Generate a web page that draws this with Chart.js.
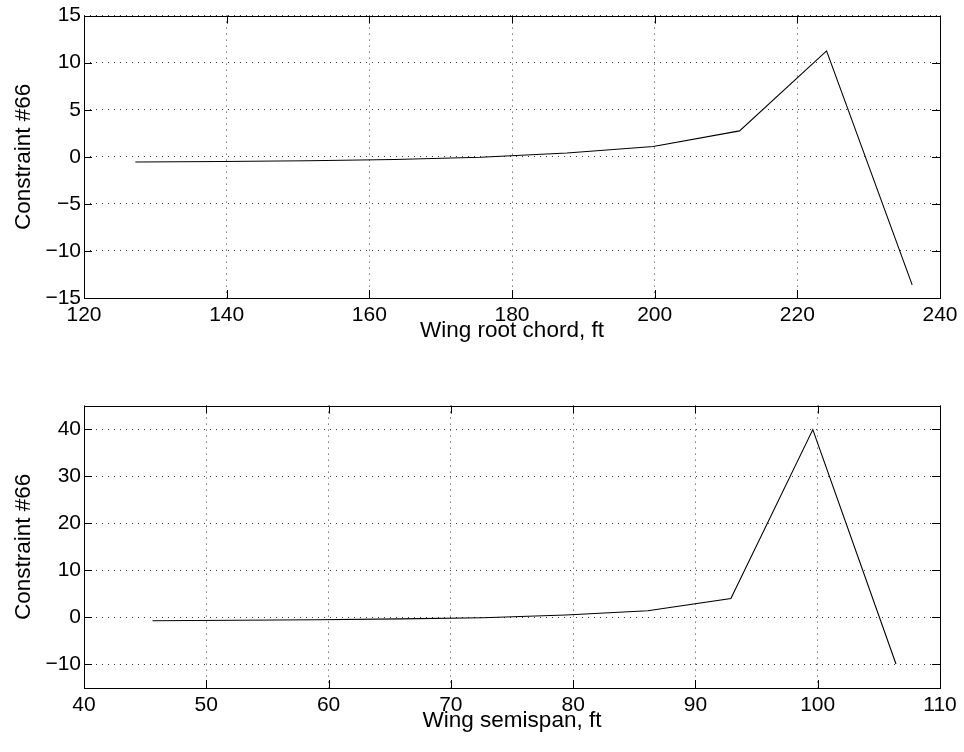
<!DOCTYPE html>
<html>
<head>
<meta charset="utf-8">
<script src="https://cdn.jsdelivr.net/npm/chart.js@4.4.0/dist/chart.umd.min.js"></script>
<style>
  html, body { margin: 0; padding: 0; background: #fff; }
  body { width: 964px; height: 752px; position: relative; overflow: hidden; }
  .panel { position: absolute; left: 0; width: 964px; height: 376px; }
</style>
</head>
<body>
<div class="panel" style="top:0"><canvas id="c1"></canvas></div>
<div class="panel" style="top:390px"><canvas id="c2"></canvas></div>
<script>
// Constraint #66 sensitivity to wing root chord
const rootChord = [127.2, 139.3, 151.4, 163.5, 175.6, 187.7, 199.8, 211.9, 224.1, 236.1];
const constraintVsChord = [-0.55, -0.5, -0.42, -0.28, -0.05, 0.4, 1.1, 2.75, 11.25, -13.6];
const chordTicks = [120, 140, 160, 180, 200, 220, 240];
const chordValueTicks = [-15, -10, -5, 0, 5, 10, 15];

// Constraint #66 sensitivity to wing semispan
const semispan = [45.6, 52.4, 59.1, 65.9, 72.6, 79.4, 86.1, 92.9, 99.6, 106.4];
const constraintVsSpan = [-0.7, -0.62, -0.5, -0.32, -0.08, 0.5, 1.4, 4.0, 39.9, -9.9];
const spanTicks = [40, 50, 60, 70, 80, 90, 100, 110];
const spanValueTicks = [-10, 0, 10, 20, 30, 40];

const FONT = "'Liberation Sans', Arial, Helvetica, sans-serif";
const TICK_SIZE = 21;
const TITLE_SIZE = 22.5;
const fmt = v => String(v).replace('-', '\u2212');

// Box outline and inward tick marks on all four sides
const frame = {
  id: 'frame',
  afterDraw(chart) {
    const { ctx, chartArea: a, scales } = chart;
    ctx.save();
    ctx.strokeStyle = '#000';
    ctx.lineWidth = 1;
    const L = 8;
    ctx.beginPath();
    scales.x.ticks.forEach(t => {
      const px = Math.round(scales.x.getPixelForValue(t.value)) + 0.5;
      ctx.moveTo(px, a.bottom); ctx.lineTo(px, a.bottom - L);
      ctx.moveTo(px, a.top); ctx.lineTo(px, a.top + L);
    });
    scales.y.ticks.forEach(t => {
      const py = Math.round(scales.y.getPixelForValue(t.value)) + 0.5;
      ctx.moveTo(a.left, py); ctx.lineTo(a.left + L, py);
      ctx.moveTo(a.right, py); ctx.lineTo(a.right - L, py);
    });
    ctx.stroke();
    ctx.strokeRect(Math.round(a.left) + 0.5, Math.round(a.top) + 0.5,
                   Math.round(a.right - a.left), Math.round(a.bottom - a.top));
    ctx.restore();
  }
};

function makeChart(id, xs, ys, xTicks, yTicks, xMin, xMax, yMin, yMax, xTitle) {
  const pts = xs.map((x, i) => ({ x, y: ys[i] }));
  return new Chart(document.getElementById(id), {
    type: 'line',
    data: { datasets: [{ data: pts, borderColor: '#000', borderWidth: 1.1,
                         pointRadius: 0, tension: 0, fill: false }] },
    options: {
      responsive: true, maintainAspectRatio: false, animation: false,
      layout: { padding: { top: 14, right: 24, left: 0, bottom: 0 } },
      plugins: { legend: { display: false }, tooltip: { enabled: false } },
      scales: {
        x: {
          type: 'linear', min: xMin, max: xMax,
          afterBuildTicks: s => { s.ticks = xTicks.map(v => ({ value: v })); },
          afterFit: s => { s.height = 78; },
          grid: { color: '#3a3a3a', lineWidth: 1, drawTicks: false },
          border: { display: false, dash: [1, 5] },
          ticks: { color: '#000', font: { family: FONT, size: TICK_SIZE }, padding: 5,
                   maxRotation: 0, callback: v => fmt(v) },
          title: { display: true, text: xTitle, color: '#000',
                   font: { family: FONT, size: TITLE_SIZE },
                   padding: { top: 0, bottom: 32 } }
        },
        y: {
          type: 'linear', min: yMin, max: yMax,
          afterBuildTicks: s => { s.ticks = yTicks.map(v => ({ value: v })); },
          afterFit: s => { s.width = 84; },
          grid: { color: '#3a3a3a', lineWidth: 1, drawTicks: false },
          border: { display: false, dash: [1, 5] },
          ticks: { color: '#000', font: { family: FONT, size: TICK_SIZE }, padding: 3,
                   callback: v => fmt(v) },
          title: { display: true, text: 'Constraint #66', color: '#000',
                   font: { family: FONT, size: TITLE_SIZE },
                   padding: { top: 10, bottom: 0 } }
        }
      }
    },
    plugins: [frame]
  });
}

makeChart('c1', rootChord, constraintVsChord, chordTicks, chordValueTicks,
          120, 240, -15, 15, 'Wing root chord, ft');
makeChart('c2', semispan, constraintVsSpan, spanTicks, spanValueTicks,
          40, 110, -15, 45, 'Wing semispan, ft');
</script>
</body>
</html>
